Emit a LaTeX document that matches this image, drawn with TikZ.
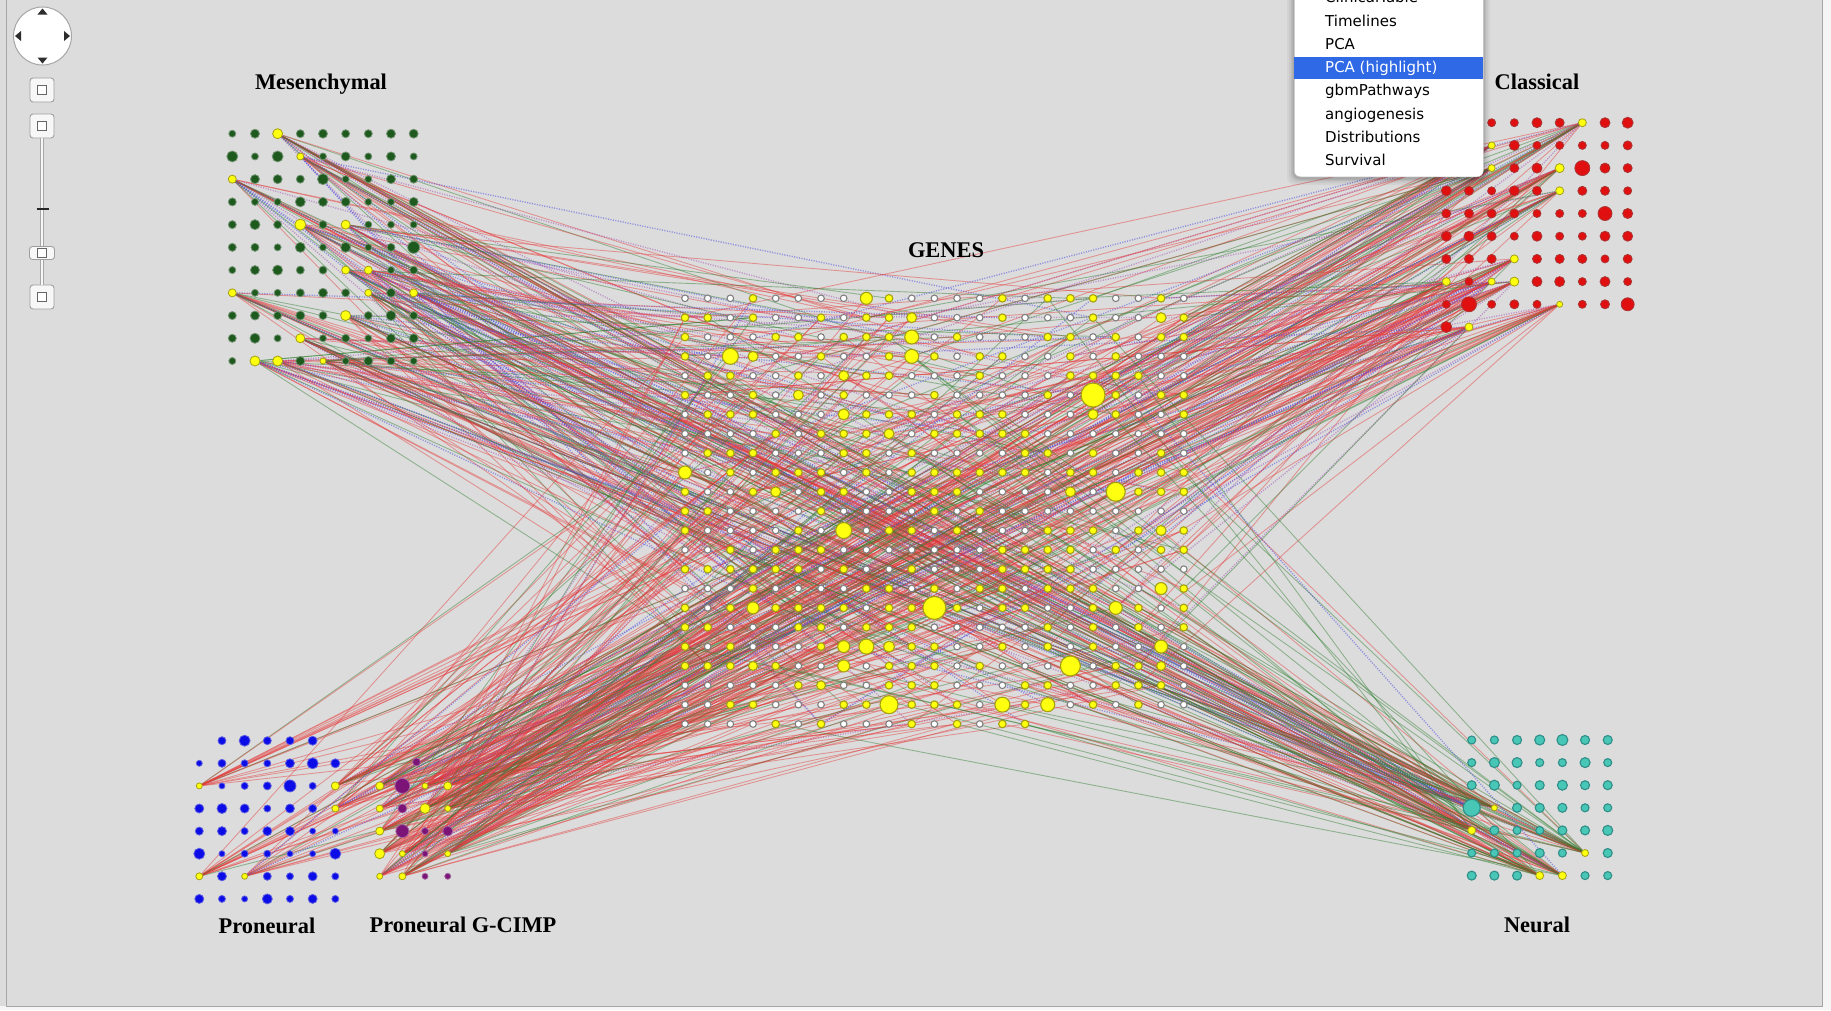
\documentclass[tikz,border=0pt]{standalone}
\usepackage{fontspec}
\setmainfont{Liberation Serif}
\newfontfamily\menufont{DejaVu Sans}
\pgfdeclarelayer{panel}
\pgfdeclarelayer{links}
\pgfsetlayers{panel,links,main}

\definecolor{bgpanel}{HTML}{DCDCDC}
\definecolor{mesgreen}{HTML}{1E5A1E}
\definecolor{clsred}{HTML}{E01010}
\definecolor{pnblue}{HTML}{0C0CE6}
\definecolor{gcpurple}{HTML}{7C1478}
\definecolor{neuteal}{HTML}{48C6B6}
\definecolor{neuring}{HTML}{2F8E88}
\definecolor{hiyellow}{HTML}{FFFF10}
\definecolor{hiring}{HTML}{A4A010}
\definecolor{edgered}{HTML}{E63A3A}
\definecolor{edgegreen}{HTML}{2E7E2E}
\definecolor{edgeblue}{HTML}{5252E0}
\definecolor{edgeviolet}{HTML}{A04CB8}
\definecolor{menubot}{HTML}{2F69E6}

\tikzset{
  x=1pt, y=-1pt,
  dotnode/.style={circle, inner sep=0pt, line width=0.8pt, minimum size=8pt},
  hit/.style={dotnode, fill=hiyellow, draw=hiring},
  mesdot/.style={dotnode, fill=mesgreen, draw=mesgreen!55!bgpanel},
  clsdot/.style={dotnode, fill=clsred, draw=clsred!70!black!80!bgpanel},
  pndot/.style={dotnode, fill=pnblue, draw=pnblue!60!bgpanel},
  gcdot/.style={dotnode, fill=gcpurple, draw=gcpurple!60!bgpanel},
  neudot/.style={dotnode, fill=neuteal, draw=neuring, line width=1.1pt},
  gene/.style={circle, inner sep=0pt, minimum size=6.6pt, fill=white, draw=gray, line width=1.1pt},
  genehit/.style={gene, fill=hiyellow, draw=hiring, minimum size=7.6pt},
  ered/.style={draw=edgered, draw opacity=0.45, line width=0.9pt},
  egreen/.style={draw=edgegreen, draw opacity=0.45, line width=0.9pt},
  eblue/.style={draw=edgeblue, draw opacity=0.55, line width=1.4pt, dash pattern=on 1.1pt off 1.4pt},
  eviolet/.style={draw=edgeviolet, draw opacity=0.5, line width=1.4pt, dash pattern=on 1.1pt off 1.4pt},
  grouplabel/.style={font=\fontsize{22.4}{26}\selectfont\bfseries, anchor=base, inner sep=0pt},
  menuitem/.style={font=\menufont\fontsize{15}{17}\selectfont, anchor=base west, inner sep=0pt},
  ctlbtn/.style={draw=gray!75, fill=white!94!gray, rounded corners=3pt, minimum width=24pt, minimum height=24pt, line width=0.9pt},
  ctlinner/.style={draw=gray!80!black, fill=white, minimum size=9pt, inner sep=0pt, line width=0.9pt},
}

% registries of highlighted (yellow) nodes
\newcount\nyg
\newcommand\initcnt[1]{\expandafter\gdef\csname cnt-#1\endcsname{0}}
\newcommand\regsamp[2]{%
  \expandafter\xdef\csname cnt-#1\endcsname{\the\numexpr\csname cnt-#1\endcsname+1\relax}%
  \expandafter\xdef\csname samp-#1-\csname cnt-#1\endcsname\endcsname{#2}}
\newcommand\pickfrom[1]{%
  \pgfmathrandominteger{\mysi}{1}{\csname cnt-#1\endcsname}%
  \edef\stgt{\csname samp-#1-\mysi\endcsname}}
\newcommand\randlink[4]{%
  \pgfmathrandominteger{\myk}{0}{99}%
  \ifnum\myk<#3\relax\draw[ered] (#1) -- (#2);%
  \else\ifnum\myk<#4\relax\draw[egreen] (#1) -- (#2);%
  \else\ifodd\myk\draw[eblue] (#1) -- (#2);\else\draw[eviolet] (#1) -- (#2);\fi\fi\fi}
\newcommand\genelinks[4]{%
  \foreach \jj in {1,...,#2}{%
    \pgfmathrandominteger{\mygi}{1}{\the\nyg}%
    \edef\gtgt{g-\csname ygene\mygi\endcsname}%
    \randlink{#1}{\gtgt}{#3}{#4}}}
\newcommand\samplinks[5]{%
  \foreach \jj in {1,...,#3}{\pickfrom{#2}\randlink{#1}{\stgt}{#4}{#5}}}

% highlighted samples: column/row/diameter
\def\mesY{2/0/10, 3/1/7, 0/2/8, 3/4/11, 5/4/9, 5/6/8, 6/6/8, 0/7/8, 6/7/7, 8/7/8, 5/8/10, 3/9/9, 1/10/10, 2/10/10, 4/10/6}
\def\clsY{6/0/8, 2/1/7, 2/2/7, 5/2/9, 5/3/8, 3/6/8, 0/7/8, 2/7/7, 3/7/9, 5/8/6, 1/9/8}
\def\pnY{0/2/6, 6/2/8, 6/3/7, 0/6/7, 2/6/6}
\def\gcY{0/2/8, 2/2/6, 3/2/8, 0/3/7, 2/3/10, 3/3/6, 0/4/8, 0/5/10, 1/5/6, 3/5/6, 0/6/6, 1/6/7}
\def\neuY{1/3/6, 0/4/8, 5/5/7, 3/6/8, 4/6/8}

\begin{document}
\begin{tikzpicture}
\pgfmathsetseed{4242}
\useasboundingbox (0,0) rectangle (1831,1010);
\begin{pgfonlayer}{panel}
\fill[bgpanel] (0,0) rectangle (1831,1010);
\fill[white!92!gray] (1822,0) rectangle (1831,1010);
\fill[white!92!gray] (0,1006) rectangle (1831,1010);
\draw[gray!70, line width=1pt] (6,0) -- (6,1006) -- (1822,1006) -- (1822,0);
\end{pgfonlayer}

\foreach \g in {m,k,p,q,n}{\initcnt{\g}}
\foreach \cx/\ry/\dm in \mesY {\expandafter\xdef\csname ym-\cx-\ry\endcsname{\dm}\regsamp{m}{m-\cx-\ry}}
\foreach \cx/\ry/\dm in \clsY {\expandafter\xdef\csname yk-\cx-\ry\endcsname{\dm}\regsamp{k}{k-\cx-\ry}}
\foreach \cx/\ry/\dm in \pnY {\expandafter\xdef\csname yp-\cx-\ry\endcsname{\dm}\regsamp{p}{p-\cx-\ry}}
\foreach \cx/\ry/\dm in \gcY {\expandafter\xdef\csname yq-\cx-\ry\endcsname{\dm}\regsamp{q}{q-\cx-\ry}}
\foreach \cx/\ry/\dm in \neuY {\expandafter\xdef\csname yn-\cx-\ry\endcsname{\dm}\regsamp{n}{n-\cx-\ry}}

% larger plain samples
\foreach \nm/\dm in {m-0-1/11, m-2-1/11, m-4-2/11, m-3-3/10, m-1-4/10, m-3-5/10, m-8-5/12, m-5-5/10, m-2-6/10, m-1-9/10, m-7-8/10, m-4-7/9,
  k-6-2/15, k-7-4/14, k-1-8/15, k-8-8/13, k-0-9/11, k-8-0/11, k-4-0/10, k-0-5/10,
  p-2-0/11, p-4-2/12, p-0-5/11, p-6-5/11, p-1-3/10, p-5-1/11, p-3-7/10,
  q-1-2/15, q-1-3/9, q-1-4/13, q-2-4/7, q-3-4/10, q-2-5/6, q-2-6/6, q-3-6/6,
  n-0-3/17, n-3-0/10, n-4-0/11, n-1-1/10, n-2-1/10, n-5-1/10, n-1-2/10, n-4-2/10, n-6-4/10}
  {\expandafter\xdef\csname bs-\nm\endcsname{\dm}}

% Mesenchymal samples
\foreach \ry in {0,...,10}{\foreach \cx in {0,...,8}{%
  \ifcsname ym-\cx-\ry\endcsname
    \edef\dd{\csname ym-\cx-\ry\endcsname}%
    \node[hit, minimum size=\dd pt] (m-\cx-\ry) at ({232.3+22.67*\cx},{133.7+22.73*\ry}) {};
  \else
    \ifcsname bs-m-\cx-\ry\endcsname\edef\dd{\csname bs-m-\cx-\ry\endcsname}\else\pgfmathrandominteger{\dd}{7}{9}\fi
    \node[mesdot, minimum size=\dd pt] (m-\cx-\ry) at ({232.3+22.67*\cx},{133.7+22.73*\ry}) {};
  \fi}}

% Classical samples
\foreach \ry in {0,...,9}{\foreach \cx in {0,...,8}{%
  \ifnum\ry=9 \ifnum\cx>1 \def\skipit{1}\else\def\skipit{0}\fi\else\def\skipit{0}\fi
  \ifnum\skipit=0
  \ifcsname yk-\cx-\ry\endcsname
    \edef\dd{\csname yk-\cx-\ry\endcsname}%
    \node[hit, minimum size=\dd pt] (k-\cx-\ry) at ({1446.3+22.67*\cx},{122.7+22.7*\ry}) {};
  \else
    \ifcsname bs-k-\cx-\ry\endcsname\edef\dd{\csname bs-k-\cx-\ry\endcsname}\else\pgfmathrandominteger{\dd}{8}{10}\fi
    \node[clsdot, minimum size=\dd pt] (k-\cx-\ry) at ({1446.3+22.67*\cx},{122.7+22.7*\ry}) {};
  \fi\fi}}

% Proneural samples
\foreach \ry in {0,...,7}{\foreach \cx in {0,...,6}{%
  \ifnum\ry=0 \ifnum\cx=0 \def\skipit{1}\else\ifnum\cx=6 \def\skipit{1}\else\def\skipit{0}\fi\fi\else\def\skipit{0}\fi
  \ifnum\skipit=0
  \ifcsname yp-\cx-\ry\endcsname
    \edef\dd{\csname yp-\cx-\ry\endcsname}%
    \node[hit, minimum size=\dd pt] (p-\cx-\ry) at ({199.3+22.67*\cx},{740.7+22.6*\ry}) {};
  \else
    \ifcsname bs-p-\cx-\ry\endcsname\edef\dd{\csname bs-p-\cx-\ry\endcsname}\else\pgfmathrandominteger{\dd}{6}{9}\fi
    \node[pndot, minimum size=\dd pt] (p-\cx-\ry) at ({199.3+22.67*\cx},{740.7+22.6*\ry}) {};
  \fi\fi}}

% Proneural G-CIMP samples
\node[gcdot, minimum size=8pt] (q-x-1) at (416.5,762) {};
\foreach \ry in {2,...,6}{\foreach \cx in {0,...,3}{%
  \ifcsname yq-\cx-\ry\endcsname
    \edef\dd{\csname yq-\cx-\ry\endcsname}%
    \node[hit, minimum size=\dd pt] (q-\cx-\ry) at ({379.7+22.67*\cx},{740.7+22.6*\ry}) {};
  \else
    \ifcsname bs-q-\cx-\ry\endcsname\edef\dd{\csname bs-q-\cx-\ry\endcsname}\else\def\dd{8}\fi
    \node[gcdot, minimum size=\dd pt] (q-\cx-\ry) at ({379.7+22.67*\cx},{740.7+22.6*\ry}) {};
  \fi}}

% Neural samples
\foreach \ry in {0,...,6}{\foreach \cx in {0,...,6}{%
  \ifcsname yn-\cx-\ry\endcsname
    \edef\dd{\csname yn-\cx-\ry\endcsname}%
    \node[hit, minimum size=\dd pt] (n-\cx-\ry) at ({1471.7+22.67*\cx},{740+22.6*\ry}) {};
  \else
    \ifcsname bs-n-\cx-\ry\endcsname\edef\dd{\csname bs-n-\cx-\ry\endcsname}\else\pgfmathrandominteger{\dd}{8}{9}\fi
    \node[neudot, minimum size=\dd pt] (n-\cx-\ry) at ({1471.7+22.67*\cx},{740+22.6*\ry}) {};
  \fi}}

% gene grid
\foreach \cx/\ry/\dm in {8/0/12, 10/1/10, 10/2/14, 10/3/14, 2/3/16, 3/3/10, 7/4/10, 5/5/10, 7/6/11, 9/7/10,
  18/5/24, 18/6/10, 0/9/13, 19/10/19, 4/10/10, 17/10/10, 7/12/16, 21/12/10, 3/16/12, 11/16/23, 19/16/13,
  21/15/12, 7/18/12, 8/18/15, 9/18/11, 7/19/12, 3/19/9, 17/19/20, 21/18/13, 21/19/9, 6/20/9, 9/21/18,
  14/21/15, 16/21/14, 21/1/10}{\expandafter\xdef\csname gb-\cx-\ry\endcsname{\dm}}
\foreach \ry in {0,...,22}{\foreach \cx in {0,...,22}{%
  \ifnum\ry=22 \ifnum\cx>15 \def\skipit{1}\else\def\skipit{0}\fi\else\def\skipit{0}\fi
  \ifnum\skipit=0
    \ifcsname gb-\cx-\ry\endcsname
      \edef\dd{\csname gb-\cx-\ry\endcsname}%
      \node[genehit, minimum size=\dd pt] (g-\cx-\ry) at ({685+22.67*\cx},{298.3+19.35*\ry}) {};
      \global\advance\nyg by 1 \expandafter\xdef\csname ygene\the\nyg\endcsname{\cx-\ry}%
    \else
      \pgfmathrandominteger{\myk}{0}{99}%
      \ifnum\myk<45
        \node[genehit] (g-\cx-\ry) at ({685+22.67*\cx},{298.3+19.35*\ry}) {};
        \global\advance\nyg by 1 \expandafter\xdef\csname ygene\the\nyg\endcsname{\cx-\ry}%
      \else
        \node[gene] (g-\cx-\ry) at ({685+22.67*\cx},{298.3+19.35*\ry}) {};
      \fi
    \fi
  \fi}}

% connectors between highlighted samples and genes
\begin{pgfonlayer}{links}
\foreach \cx/\ry/\dm in \mesY {%
  \genelinks{m-\cx-\ry}{14}{50}{72}%
  \samplinks{m-\cx-\ry}{n}{4}{40}{82}%
  \draw[eblue] (m-\cx-\ry) -- (n-0-3);}
\foreach \cx/\ry/\dm in \clsY {%
  \genelinks{k-\cx-\ry}{14}{55}{75}%
  \samplinks{k-\cx-\ry}{q}{4}{55}{82}%
  \samplinks{k-\cx-\ry}{p}{2}{70}{85}}
\foreach \cx/\ry/\dm in \gcY {%
  \genelinks{q-\cx-\ry}{15}{58}{90}%
  \samplinks{q-\cx-\ry}{k}{3}{58}{92}}
\foreach \cx/\ry/\dm in \pnY {%
  \genelinks{p-\cx-\ry}{11}{80}{93}%
  \samplinks{p-\cx-\ry}{k}{2}{80}{95}}
\foreach \cx/\ry/\dm in \neuY {%
  \genelinks{n-\cx-\ry}{14}{30}{92}%
  \samplinks{n-\cx-\ry}{m}{4}{35}{95}}
\end{pgfonlayer}

% group titles
\node[grouplabel] (lmes) at (321,89) {Mesenchymal};
\node[grouplabel] (lcls) at (1537,89) {Classical};
\node[grouplabel] (lgen) at (946,257) {GENES};
\node[grouplabel] (lpn) at (267,933) {Proneural};
\node[grouplabel] (lgc) at (463,932) {Proneural G-CIMP};
\node[grouplabel] (lneu) at (1537,932) {Neural};

% navigation and zoom controls
\node[circle, draw=gray!70, fill=white, minimum size=58pt, line width=1pt] (nav) at (42.5,36) {};
\fill[gray!35!black] (42.5,8.5) -- (37.5,14.5) -- (47.5,14.5) -- cycle;
\fill[gray!35!black] (42.5,63.5) -- (37.5,57.5) -- (47.5,57.5) -- cycle;
\fill[gray!35!black] (15,36) -- (21,31) -- (21,41) -- cycle;
\fill[gray!35!black] (70,36) -- (64,31) -- (64,41) -- cycle;
\node[ctlbtn] (zfit) at (42,90) {};
\node[ctlinner] (zfiti) at (zfit) {};
\node[ctlbtn] (zin) at (42,126) {};
\node[ctlinner] (zini) at (zin) {};
\node[ctlbtn] (zout) at (42,297) {};
\node[ctlinner] (zouti) at (zout) {};
\draw[gray!70, line width=4.6pt] (zin.south) -- (zout.north);
\draw[white!94!gray, line width=2.4pt] (zin.south) -- (zout.north);
\coordinate (tickw) at (36.5,209);
\coordinate (ticke) at (48.5,209);
\draw[gray!30!black, line width=2.4pt] (tickw) -- (ticke);
\node[ctlbtn, minimum width=25pt, minimum height=13pt] (knob) at (42,253) {};
\node[ctlinner] (knobi) at (knob) {};

% view menu
\foreach \e/\o in {7/0.04, 5/0.05, 3/0.07, 1.5/0.09}
  \fill[black, opacity=\o, rounded corners=8pt] (1294-\e,-20) rectangle (1483+\e,177+\e+1);
\node[draw=gray!45, fill=white, rounded corners=6pt, minimum width=189pt, minimum height=200pt, anchor=south west, inner sep=0pt, line width=0.5pt] (menu) at (1294,177) {};
\node[fill=menubot, minimum width=189pt, minimum height=22pt, inner sep=0pt, anchor=north west] (hl) at (1294,57) {};
\node[menuitem] (i0) at (1325,2.7) {ClinicalTable};
\node[menuitem] (i1) at (1325,26) {Timelines};
\node[menuitem] (i2) at (1325,49.3) {PCA};
\node[menuitem, text=white] (i3) at (1325,72.6) {PCA (highlight)};
\node[menuitem] (i4) at (1325,95.9) {gbmPathways};
\node[menuitem] (i5) at (1325,119.2) {angiogenesis};
\node[menuitem] (i6) at (1325,142.5) {Distributions};
\node[menuitem] (i7) at (1325,165.8) {Survival};
\end{tikzpicture}
\end{document}
